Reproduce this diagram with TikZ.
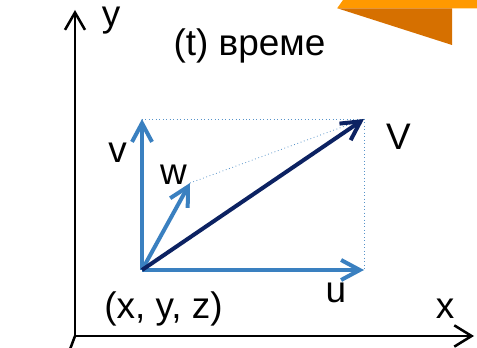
\documentclass[tikz,border=0pt]{standalone}
\usepackage{fontspec}
\setmainfont{Liberation Sans}
\usetikzlibrary{arrows.meta}
\definecolor{vblue}{RGB}{58,128,192}
\definecolor{vnavy}{RGB}{12,34,98}
\definecolor{olight}{RGB}{255,153,0}
\definecolor{odark}{RGB}{214,112,0}
\tikzset{
  lbl/.style={inner sep=0pt, anchor=base, font=\fontsize{27.7}{33}\selectfont},
  axis/.style={line width=1.9pt, black},
  vecb/.style={line width=3pt, vblue, -{Straight Barb[length=14pt,width=15pt]}},
  vecn/.style={line width=3pt, vnavy, -{Straight Barb[length=14pt,width=15pt]}},
  guide/.style={line width=0.6pt, vblue!85, dotted},
}
\begin{document}
\begin{tikzpicture}[x=0.75pt,y=-0.75pt]
\useasboundingbox (0,0) rectangle (477,348);
\begin{scope}
\clip (0,0) rectangle (477,348);
% orange decoration
\fill[olight] (343,0) -- (477,0) -- (477,8.5) -- (337,8.5) -- cycle;
\fill[odark] (338,8.5) -- (452,8.5) -- (452,45) -- cycle;
% axes
\coordinate (O) at (75,336);
\coordinate (Ytip) at (75,10);
\coordinate (Xtip) at (474,336);
\coordinate (Zend) at (69,352);
\draw[axis, -{Straight Barb[length=13pt,width=15pt]}] (75,337) -- (Ytip);
\draw[axis, -{Straight Barb[length=13pt,width=16pt]}] (74,336) -- (Xtip);
\draw[axis] (O) -- (Zend);
\end{scope}
% vector points
\coordinate (P) at (142,270);
\coordinate (Pv) at (142,119);
\coordinate (Pu) at (364,270);
\coordinate (PV) at (364,119);
\coordinate (Pw) at (190,183);
% guides
\draw[guide] (Pv) -- (PV);
\draw[guide] (PV) -- (Pu);
\draw[guide] (Pw) -- (PV);
% vectors
\draw[vecb] (P) -- (Pv);
\draw[vecb] (P) -- (Pu);
\draw[vecb] (P) -- (Pw);
\draw[vecn] (P) -- (PV);
% labels
\node[lbl, text height=0.55em] (ly) at (111,27) {y};
\node[lbl] (lt) at (249.5,56) {(t) време};
\node[lbl] (lv) at (117.5,163) {v};
\node[lbl] (lw) at (173.5,185) {w};
\node[lbl] (lV) at (398.5,150) {V};
\node[lbl] (lu) at (336,302) {u};
\node[lbl] (lxyz) at (163.5,318) {(x, y, z)};
\node[lbl] (lx) at (445,318) {x};
\end{tikzpicture}
\end{document}
